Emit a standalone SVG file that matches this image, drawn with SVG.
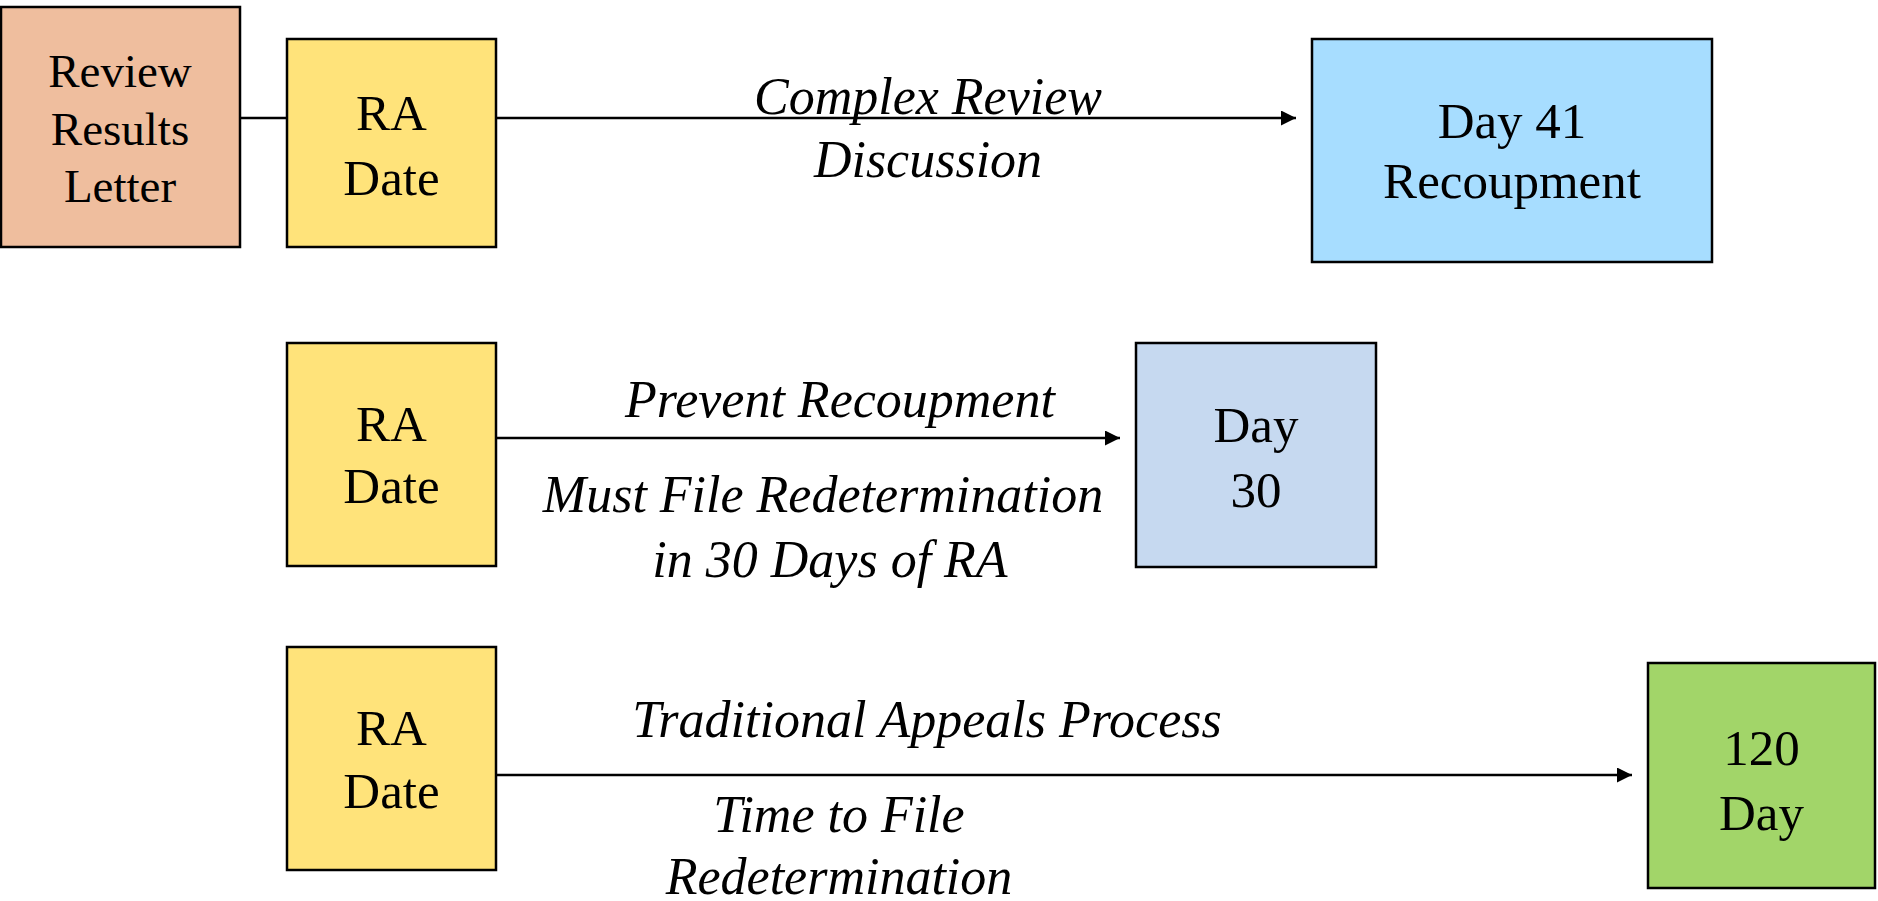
<svg xmlns="http://www.w3.org/2000/svg" width="1878" height="901" viewBox="0 0 1878 901">
<style>
.box{stroke:#000;stroke-width:2.5}
.con{stroke:#000;stroke-width:2.5;fill:none}
</style>
<defs>
<marker id="arr" viewBox="0 0 10 10" refX="10" refY="5" markerWidth="6" markerHeight="6" markerUnits="strokeWidth" orient="auto">
<path d="M0,0 L10,5 L0,10 z" fill="#000"/>
</marker>
</defs>
<rect width="1878" height="901" fill="#fff"/>
<g id="connectors">
<line class="con" x1="240" y1="118" x2="287" y2="118"/>
<line class="con" x1="496" y1="118" x2="1296" y2="118" marker-end="url(#arr)"/>
<line class="con" x1="496" y1="438" x2="1120" y2="438" marker-end="url(#arr)"/>
<line class="con" x1="496" y1="775" x2="1632" y2="775" marker-end="url(#arr)"/>
</g>
<g id="labels" font-family="Liberation Serif, Tinos, Times New Roman, DejaVu Serif, serif" font-size="52" font-style="italic" text-anchor="middle" fill="#000">
<text x="928" y="114">Complex Review</text>
<text x="928" y="177">Discussion</text>
<text x="840" y="417">Prevent Recoupment</text>
<text x="823" y="512">Must File Redetermination</text>
<text x="830" y="577">in 30 Days of RA</text>
<text x="927" y="737">Traditional Appeals Process</text>
<text x="839" y="832">Time to File</text>
<text x="839" y="894">Redetermination</text>
</g>
<g font-family="Liberation Serif, Tinos, Times New Roman, DejaVu Serif, serif" font-size="51" text-anchor="middle" fill="#000">
<g id="review">
<rect class="box" x="1" y="7" width="239" height="240" fill="#EFBE9E"/>
<text x="120" y="87" font-size="47">Review</text>
<text x="120" y="145" font-size="47">Results</text>
<text x="120" y="202" font-size="47">Letter</text>
</g>
<g id="ra1">
<rect class="box" x="287" y="39" width="209" height="208" fill="#FFE37A"/>
<text x="391.5" y="130">RA</text>
<text x="391.5" y="195">Date</text>
</g>
<g id="day41">
<rect class="box" x="1312" y="39" width="400" height="223" fill="#A7DDFF"/>
<text x="1512" y="138">Day 41</text>
<text x="1512" y="198">Recoupment</text>
</g>
<g id="ra2">
<rect class="box" x="287" y="343" width="209" height="223" fill="#FFE37A"/>
<text x="391.5" y="441">RA</text>
<text x="391.5" y="503">Date</text>
</g>
<g id="day30">
<rect class="box" x="1136" y="343" width="240" height="224" fill="#C6D9F0"/>
<text x="1256" y="442">Day</text>
<text x="1256" y="507">30</text>
</g>
<g id="ra3">
<rect class="box" x="287" y="647" width="209" height="223" fill="#FFE37A"/>
<text x="391.5" y="745">RA</text>
<text x="391.5" y="808">Date</text>
</g>
<g id="day120">
<rect class="box" x="1648" y="663" width="227" height="225" fill="#A2D569"/>
<text x="1761.5" y="765">120</text>
<text x="1761.5" y="830">Day</text>
</g>
</g>
</svg>
